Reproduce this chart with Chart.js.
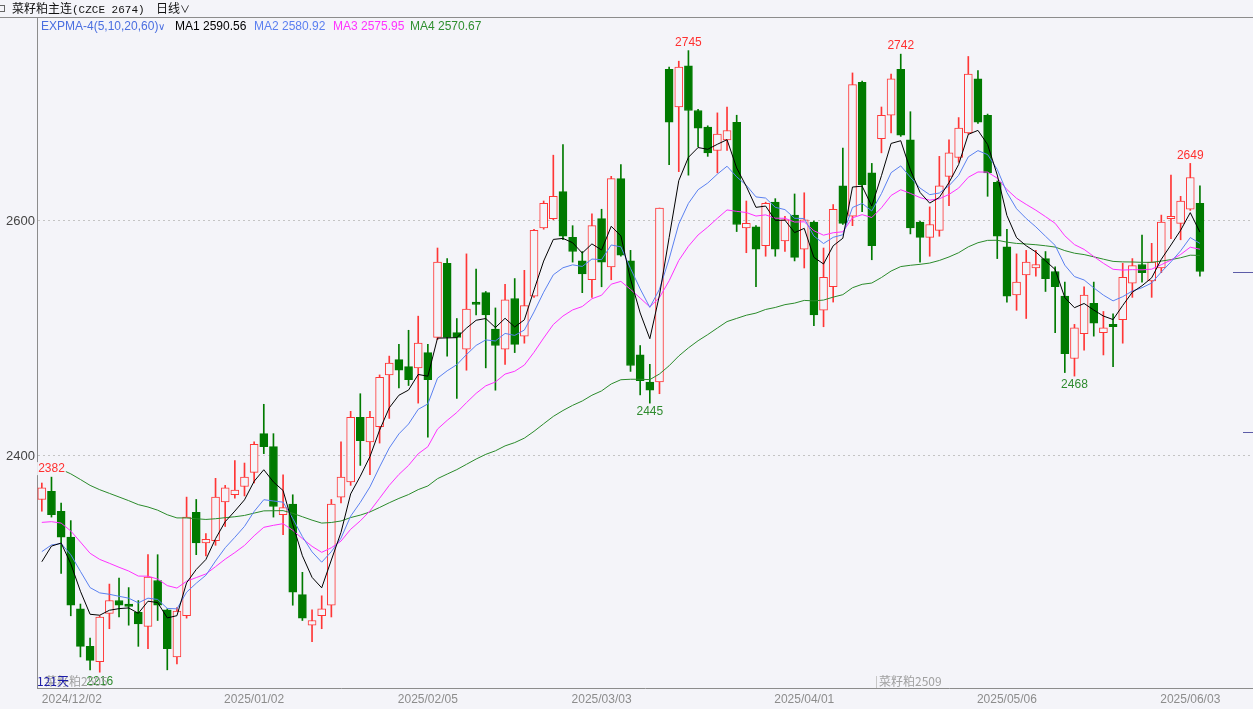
<!DOCTYPE html>
<html>
<head>
<meta charset="utf-8">
<script src="https://cdn.jsdelivr.net/npm/chart.js@4.4.1/dist/chart.umd.min.js"></script>
<style>
  body { margin: 0; background: #f4f4f9; font-family: "Liberation Sans", Arial, sans-serif; }
  #wrap { position: absolute; left: 0; top: 0; width: 1253px; height: 709px; overflow: hidden; }
  #box { position: absolute; left: 0; top: 0; width: 1253px; height: 709px; }
  .t { position: absolute; font-size: 12px; line-height: 14px; white-space: nowrap; }
  .cjk { font-family: "Noto Sans CJK SC", sans-serif; }
  .chev { font-size: 10px; }
</style>
</head>
<body>
<div id="wrap">
  <div id="box"><canvas id="klineChart"></canvas></div>

  <!-- cabecera -->
  <span style="position:absolute;left:-2px;top:5px;width:5px;height:5px;border:1px solid #666;"></span>
  <span class="t cjk" style="left:12px;top:1px;color:#111;">菜籽粕主连<span style="font-family:'Liberation Mono',monospace;font-size:11px;">(CZCE 2674)</span></span>
  <span class="t cjk" style="left:156px;top:1px;color:#111;">日线<span class="chev">∨</span></span>
  <div style="position:absolute;left:0;top:17px;width:1253px;height:1px;background:#8c8c8c;"></div>

  <!-- leyenda -->
  <span class="t" style="left:41px;top:19px;color:#4a6ee0;">EXPMA-4(5,10,20,60)<span class="chev">∨</span></span>
  <span class="t" id="lg1" style="left:175px;top:19px;color:#000;"></span>
  <span class="t" id="lg2" style="left:254px;top:19px;color:#5b7ff0;"></span>
  <span class="t" id="lg3" style="left:333px;top:19px;color:#ff33ff;"></span>
  <span class="t" id="lg4" style="left:410px;top:19px;color:#2f8f2f;"></span>

  <!-- textos inferiores -->
  <span class="t cjk" style="left:45px;top:674px;color:#a0a0a0;">菜籽粕2505</span>
  <span class="t cjk" style="left:37px;top:674px;color:#1c1ca8;">121天</span>
  <div style="position:absolute;left:876px;top:676px;width:1px;height:12px;background:#c8c8c8;"></div>
  <span class="t cjk" style="left:879px;top:674px;color:#a0a0a0;">菜籽粕2509</span>
</div>

<script>
// Fechas (días hábiles)
const dates = [
  '2024/12/02','2024/12/03','2024/12/04','2024/12/05','2024/12/06','2024/12/09','2024/12/10','2024/12/11','2024/12/12','2024/12/13',
  '2024/12/16','2024/12/17','2024/12/18','2024/12/19','2024/12/20','2024/12/23','2024/12/24','2024/12/25','2024/12/26','2024/12/27',
  '2024/12/30','2024/12/31','2025/01/02','2025/01/03','2025/01/06','2025/01/07','2025/01/08','2025/01/09','2025/01/10','2025/01/13',
  '2025/01/14','2025/01/15','2025/01/16','2025/01/17','2025/01/20','2025/01/21','2025/01/22','2025/01/23','2025/01/24','2025/01/27',
  '2025/02/05','2025/02/06','2025/02/07','2025/02/10','2025/02/11','2025/02/12','2025/02/13','2025/02/14','2025/02/17','2025/02/18',
  '2025/02/19','2025/02/20','2025/02/21','2025/02/24','2025/02/25','2025/02/26','2025/02/27','2025/02/28','2025/03/03','2025/03/04',
  '2025/03/05','2025/03/06','2025/03/07','2025/03/10','2025/03/11','2025/03/12','2025/03/13','2025/03/14','2025/03/17','2025/03/18',
  '2025/03/19','2025/03/20','2025/03/21','2025/03/24','2025/03/25','2025/03/26','2025/03/27','2025/03/28','2025/03/31','2025/04/01',
  '2025/04/02','2025/04/03','2025/04/07','2025/04/08','2025/04/09','2025/04/10','2025/04/11','2025/04/14','2025/04/15','2025/04/16',
  '2025/04/17','2025/04/18','2025/04/21','2025/04/22','2025/04/23','2025/04/24','2025/04/25','2025/04/28','2025/04/29','2025/04/30',
  '2025/05/06','2025/05/07','2025/05/08','2025/05/09','2025/05/12','2025/05/13','2025/05/14','2025/05/15','2025/05/16','2025/05/19',
  '2025/05/20','2025/05/21','2025/05/22','2025/05/23','2025/05/26','2025/05/27','2025/05/28','2025/05/29','2025/05/30','2025/06/03',
  '2025/06/04'
];
const emptySlots = ['', '', '', '', ''];
const tickDates = ['2024/12/02', '2025/01/02', '2025/02/05', '2025/03/03', '2025/04/01', '2025/05/06', '2025/06/03'];
const yTicks = [2400, 2600];

const opens = [
  2363,2370,2353,2331,2270,2238,2225,2266,2277,2274, 2267,2255,2294,2269,2229,2264,2352,2326,2328,2361,
  2367,2374,2386,2419,2408,2350,2359,2282,2256,2264, 2273,2365,2378,2433,2412,2425,2469,2482,2476,2475,
  2488,2501,2564,2505,2491,2531,2539,2508,2491,2534, 2502,2536,2594,2602,2625,2586,2566,2550,2602,2561,
  2636,2566,2486,2463,2463,2729,2697,2732,2694,2680, 2660,2669,2684,2594,2595,2579,2616,2583,2605,2576,
  2599,2524,2544,2630,2604,2718,2641,2670,2690,2729, 2669,2599,2586,2592,2638,2654,2675,2721,2690,2633,
  2578,2537,2554,2560,2568,2557,2536,2483,2504,2530, 2505,2512,2516,2547,2563,2549,2560,2602,2598,2610,
  2615
];
const highs = [
  2377,2382,2360,2345,2274,2245,2264,2291,2296,2288, 2277,2316,2316,2270,2271,2365,2363,2334,2381,2375,
  2396,2394,2412,2444,2419,2384,2367,2301,2269,2281, 2363,2412,2438,2453,2438,2469,2485,2495,2507,2519,
  2495,2577,2568,2517,2572,2559,2540,2526,2546,2551, 2558,2593,2617,2656,2665,2596,2574,2606,2610,2638,
  2648,2575,2494,2478,2611,2731,2736,2745,2695,2681, 2692,2697,2690,2617,2596,2616,2619,2604,2623,2624,
  2600,2577,2614,2662,2726,2719,2649,2697,2725,2742, 2693,2600,2612,2655,2669,2688,2740,2728,2691,2634,
  2593,2572,2575,2575,2574,2561,2548,2512,2544,2548, 2523,2521,2564,2568,2588,2581,2605,2639,2621,2649,
  2630
];
const lows = [
  2353,2348,2300,2264,2229,2218,2216,2253,2263,2256, 2238,2236,2260,2218,2223,2262,2316,2315,2324,2340,
  2364,2366,2377,2402,2348,2333,2273,2260,2242,2253, 2263,2360,2375,2392,2384,2411,2432,2458,2460,2445,
  2416,2499,2485,2449,2473,2520,2475,2456,2478,2488, 2496,2535,2593,2601,2584,2565,2539,2535,2544,2550,
  2570,2472,2452,2445,2453,2648,2642,2639,2663,2655, 2641,2660,2591,2573,2544,2570,2570,2574,2566,2560,
  2511,2510,2531,2597,2596,2608,2567,2658,2675,2672, 2589,2565,2570,2587,2613,2650,2674,2683,2621,2568,
  2531,2524,2517,2553,2540,2505,2471,2468,2490,2502, 2486,2476,2496,2535,2548,2535,2556,2585,2584,2609,
  2553
];
const closes = [
  2373,2350,2331,2273,2238,2226,2263,2277,2273,2272, 2257,2297,2273,2236,2268,2348,2326,2329,2365,2373,
  2371,2382,2410,2408,2357,2356,2284,2262,2260,2270, 2359,2382,2433,2413,2433,2467,2479,2473,2465,2496,
  2465,2565,2501,2501,2525,2529,2520,2494,2533,2495, 2528,2592,2615,2621,2587,2574,2555,2596,2565,2636,
  2571,2477,2464,2456,2611,2684,2731,2694,2679,2658, 2674,2677,2597,2598,2576,2615,2576,2601,2569,2601,
  2520,2552,2610,2598,2716,2631,2579,2690,2721,2673, 2594,2586,2597,2630,2658,2679,2725,2684,2641,2587,
  2536,2548,2565,2563,2551,2544,2487,2509,2537,2513, 2509,2510,2552,2562,2556,2565,2599,2604,2617,2637,
  2557
];

// EXPMA 5 / 10 / 20 / 60
const ma1 = [
  2310,2323.3,2325.9,2308.3,2284.9,2265.3,2264.5,2268.7,2270.1,2270.7, 2266.1,2276.4,2275.3,2262.2,2264.1,2292.1,2303.4,2311.9,2329.6,2344.1,
  2353.1,2362.7,2378.5,2388.3,2377.9,2370.6,2341.7,2315.1,2296.7,2287.8, 2311.5,2335,2367.7,2382.8,2399.5,2422,2441,2451.7,2456.1,2469.4,
  2467.9,2500.3,2500.5,2500.7,2508.8,2515.5,2517,2509.3,2517.2,2509.8, 2515.9,2541.3,2565.9,2584.3,2585.2,2581.5,2572.7,2580.5,2575.3,2595.5,
  2587.3,2550.5,2521.7,2499.8,2536.9,2585.9,2634.3,2654.2,2662.5,2661, 2665.3,2669.2,2645.1,2629.4,2611.6,2612.7,2600.5,2600.7,2590.1,2593.7,
  2569.1,2563.4,2578.9,2585.3,2628.9,2629.6,2612.7,2638.5,2666,2668.3, 2643.5,2624.3,2615.2,2620.1,2632.7,2648.1,2673.7,2677.1,2665.1,2639.1,
  2604.7,2585.8,2578.9,2573.6,2566.1,2558.7,2534.8,2526.2,2529.8,2524.2, 2519.1,2516.1,2528.1,2539.4,2544.9,2551.6,2567.4,2579.6,2592.1,2607.1,
  2590.56
];
const ma2 = [
  2318.6,2324.3,2325.5,2316,2301.8,2288,2283.5,2282.3,2280.6,2279, 2275,2279,2277.9,2270.3,2269.9,2284.1,2291.7,2298.5,2310.6,2321.9,
  2330.8,2340.1,2352.8,2362.8,2361.7,2360.7,2346.8,2331.4,2318.4,2309.6, 2318.6,2330.1,2348.8,2360.5,2373.7,2390.7,2406.8,2418.8,2427.2,2439.7,
  2444.3,2466.2,2472.5,2477.7,2486.3,2494.1,2498.8,2497.9,2504.3,2502.6, 2507.2,2522.6,2539.4,2554.2,2560.2,2562.7,2561.3,2567.6,2567.1,2579.6,
  2578,2559.6,2542.2,2526.5,2541.9,2567.7,2597.4,2615,2626.6,2632.3, 2639.9,2646.6,2637.6,2630.4,2620.5,2619.5,2611.6,2609.7,2602.3,2602.1,
  2587.2,2580.8,2586.1,2588.3,2611.5,2615,2608.5,2623.3,2641.1,2646.9, 2637.3,2628,2622.4,2623.8,2630,2638.9,2654.6,2659.9,2656.5,2643.9,
  2624.3,2610.4,2602.1,2595,2587,2579.2,2562.4,2552.7,2549.8,2543.1, 2536.9,2532,2535.6,2540.4,2543.2,2547.2,2556.6,2565.2,2574.6,2585.9,
  2580.92
];
const ma3 = [
  2343.5,2344.1,2342.9,2336.2,2326.8,2317.2,2312,2308.7,2305.3,2302.1, 2297.8,2297.7,2295.3,2289.7,2287.6,2293.4,2296.5,2299.6,2305.8,2312.2,
  2317.8,2323.9,2332.1,2339.3,2341,2342.4,2336.8,2329.7,2323.1,2318, 2321.9,2327.6,2337.6,2344.8,2353.2,2364,2375,2384.3,2392,2401.9,
  2407.9,2422.9,2430.3,2437,2445.4,2453.3,2459.7,2463,2469.7,2472.1, 2477.4,2488.3,2500.4,2511.9,2519.1,2524.3,2527.2,2533.8,2536.8,2546.2,
  2548.6,2541.8,2534.4,2526.9,2534.9,2549.1,2566.4,2578.5,2588.1,2594.8, 2602.3,2609.4,2608.2,2607.2,2604.2,2605.2,2602.4,2602.3,2599.1,2599.3,
  2591.7,2587.9,2590,2590.8,2602.7,2605.4,2602.9,2611.2,2621.7,2626.6, 2623.5,2619.9,2617.7,2618.9,2622.6,2628,2637.2,2641.7,2641.6,2636.4,
  2626.8,2619.3,2614.1,2609.2,2603.7,2598,2587.4,2579.9,2575.8,2569.8, 2564,2558.9,2558.2,2558.6,2558.4,2559,2562.8,2566.7,2571.5,2577.7,
  2575.95
];
const ma4 = [
  2392,2390.6,2388.6,2384.8,2380,2375,2371.3,2368.2,2365.1,2362, 2358.6,2356.6,2353.9,2350,2347.3,2347.3,2346.6,2346,2346.6,2347.5,
  2348.3,2349.4,2351.4,2353.3,2353.4,2353.5,2351.2,2348.3,2345.4,2342.9, 2343.4,2344.7,2347.6,2349.7,2352.4,2356.2,2360.2,2363.9,2367.2,2371.4,
  2374.5,2380.7,2384.6,2388.4,2392.9,2397.4,2401.4,2404.4,2408.6,2411.4, 2415.2,2421,2427.4,2433.7,2438.7,2443.1,2446.8,2451.7,2455.4,2461.3,
  2464.9,2465.3,2465.3,2465,2469.8,2476.8,2485.1,2492,2498.1,2503.3, 2508.9,2514.4,2517.1,2519.8,2521.6,2524.7,2526.4,2528.8,2530.1,2532.4,
  2532,2532.7,2535.2,2537.3,2543.2,2546.1,2547.2,2551.9,2557.4,2561.2, 2562.3,2563.1,2564.2,2566.4,2569.4,2573,2578,2581.5,2583.5,2583.6,
  2582,2580.9,2580.4,2579.8,2578.9,2577.8,2574.8,2572.6,2571.4,2569.5, 2567.5,2565.6,2565.2,2565.1,2564.8,2564.8,2565.9,2567.1,2568.7,2570.9,
  2570.67
];

// máximos / mínimos marcados
const highMarks = [1, 67, 89, 119];
const lowMarks = [6, 63, 107];
const refPrice = 2420;

document.addEventListener('DOMContentLoaded', function() {

    const BG = '#f4f4f9';
    const RED = '#ff3636';
    const GREEN = '#007a00';

    Chart.defaults.font.family = '"Liberation Sans", Arial, sans-serif';

    document.getElementById('lg1').textContent = 'MA1 ' + ma1[ma1.length - 1].toFixed(2);
    document.getElementById('lg2').textContent = 'MA2 ' + ma2[ma2.length - 1].toFixed(2);
    document.getElementById('lg3').textContent = 'MA3 ' + ma3[ma3.length - 1].toFixed(2);
    document.getElementById('lg4').textContent = 'MA4 ' + ma4[ma4.length - 1].toFixed(2);

    const isUp = closes.map((c, i) => c >= opens[i]);

    // etiquetas de máximos y mínimos, marcas a la derecha
    const marksPlugin = {
        id: 'marks',
        afterDatasetsDraw(chart) {
            const c = chart.ctx;
            const xs = chart.scales.x;
            const ys = chart.scales.y;
            c.save();
            c.font = '12px "Liberation Sans", Arial, sans-serif';
            c.textAlign = 'center';
            c.textBaseline = 'middle';
            const label = (idx, val, dy, color) => {
                const x = xs.getPixelForValue(idx);
                const y = ys.getPixelForValue(val) + dy;
                const txt = String(val);
                const w = c.measureText(txt).width;
                c.fillStyle = BG;
                c.fillRect(x - w / 2 - 1, y - 7, w + 2, 13);
                c.fillStyle = color;
                c.fillText(txt, x, y);
            };
            highMarks.forEach(i => label(i, highs[i], -8, '#ff3030'));
            lowMarks.forEach(i => label(i, lows[i], 9, '#2e8b2e'));

            c.strokeStyle = '#5c5ca8';
            c.lineWidth = 1;
            const right = chart.chartArea.right;
            const yLast = Math.round(ys.getPixelForValue(closes[closes.length - 1])) + 0.5;
            const yRef = Math.round(ys.getPixelForValue(refPrice)) + 0.5;
            c.beginPath();
            c.moveTo(right - 20, yLast); c.lineTo(right, yLast);
            c.moveTo(right - 10, yRef); c.lineTo(right, yRef);
            c.stroke();
            c.restore();
        }
    };

    const lineDs = (label, data, color) => ({
        type: 'line',
        label: label,
        data: data,
        borderColor: color,
        borderWidth: 1,
        pointRadius: 0,
        fill: false,
        tension: 0,
        order: 0
    });

    const ctx = document.getElementById('klineChart').getContext('2d');
    const klineChart = new Chart(ctx, {
        type: 'bar',
        data: {
            labels: dates.concat(emptySlots),
            datasets: [
                lineDs('MA1', ma1, '#000000'),
                lineDs('MA2', ma2, '#5a80f0'),
                lineDs('MA3', ma3, '#ff30ff'),
                lineDs('MA4', ma4, '#2a8a2a'),
                {
                    label: 'cuerpo',
                    data: opens.map((o, i) => [o, closes[i]]),
                    backgroundColor: isUp.map(u => u ? BG : GREEN),
                    borderColor: isUp.map(u => u ? RED : GREEN),
                    borderWidth: 1,
                    borderSkipped: false,
                    barThickness: 8,
                    grouped: false,
                    order: 1
                },
                {
                    label: 'mecha',
                    data: lows.map((l, i) => [l, highs[i]]),
                    backgroundColor: isUp.map(u => u ? RED : GREEN),
                    borderWidth: 0,
                    barThickness: 1,
                    grouped: false,
                    order: 2
                }
            ]
        },
        options: {
            responsive: true,
            maintainAspectRatio: false,
            animation: false,
            layout: { padding: { top: 17, left: 0, right: 0, bottom: 0 } },
            scales: {
                x: {
                    offset: true,
                    grid: { display: false, drawTicks: false },
                    border: { display: true, color: '#8c8c8c' },
                    ticks: {
                        autoSkip: false,
                        maxRotation: 0,
                        align: 'inner',
                        padding: 4,
                        color: '#8c8c8c',
                        font: { size: 12 },
                        callback: function(value, index) {
                            const lbl = this.getLabelForValue(value);
                            return tickDates.includes(lbl) ? lbl : '';
                        }
                    },
                    afterFit: function(scale) { scale.height = 21; }
                },
                y: {
                    min: 2202.55,
                    max: 2773.6,
                    grid: { color: '#c4c4c4', drawTicks: false },
                    border: { display: true, color: '#8c8c8c', dash: [2, 3] },
                    ticks: {
                        padding: 2,
                        color: '#444',
                        font: { size: 13 },
                        callback: function(value) { return String(value); }
                    },
                    afterBuildTicks: function(scale) { scale.ticks = yTicks.map(v => ({ value: v })); },
                    afterFit: function(scale) { scale.width = 37; }
                }
            },
            plugins: {
                legend: { display: false },
                tooltip: { enabled: false }
            }
        },
        plugins: [marksPlugin]
    });
});
</script>
</body>
</html>
